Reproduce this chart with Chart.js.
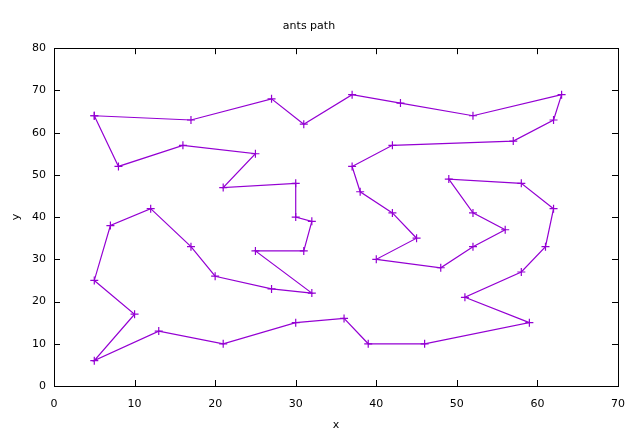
<!DOCTYPE html>
<html>
<head>
<meta charset="utf-8">
<title>ants path</title>
<script src="https://cdn.jsdelivr.net/npm/chart.js@4/dist/chart.umd.min.js"></script>
<style>
  html, body { margin: 0; padding: 0; background: #fff; }
  #wrap { width: 640px; height: 438px; }
</style>
</head>
<body>
<div id="wrap"><canvas id="antChart" width="640" height="438"></canvas></div>
<script>
// path visited by the ants, in order (closed tour)
const pathX = [5, 17, 27, 31, 37, 43, 52, 63, 62, 57, 42, 37, 38, 42, 45, 40, 48, 52, 56, 52,
               49, 58, 62, 61, 58, 51, 59, 46, 39, 36, 30, 21, 13, 5, 10, 5, 7, 12, 17, 20,
               27, 32, 25, 31, 32, 30, 30, 21, 25, 16, 8, 5];
const pathY = [64, 63, 68, 62, 69, 67, 64, 69, 63, 58, 57, 52, 46, 41, 35, 30, 28, 33, 37, 41,
               49, 48, 42, 33, 27, 21, 15, 10, 10, 16, 15, 10, 13, 6, 17, 25, 38, 42, 33, 26,
               23, 22, 32, 32, 39, 40, 48, 47, 55, 57, 52, 64];

const xTicks = [0, 10, 20, 30, 40, 50, 60, 70];
const yTicks = [0, 10, 20, 30, 40, 50, 60, 70, 80];

const lineColor = '#9400d3';
const fontFamily = '"DejaVu Sans", sans-serif';

// frame + inward (mirrored) ticks, gnuplot style
const framePlugin = {
    id: 'frame',
    afterDraw(chart) {
        const ctx = chart.ctx;
        const a = chart.chartArea;
        const xs = chart.scales.x;
        const ys = chart.scales.y;
        const len = 6;
        ctx.save();
        ctx.strokeStyle = '#000';
        ctx.lineWidth = 1;
        ctx.beginPath();
        xTicks.forEach(v => {
            const px = Math.round(xs.getPixelForValue(v)) + 0.5;
            ctx.moveTo(px, a.bottom); ctx.lineTo(px, a.bottom - len);
            ctx.moveTo(px, a.top); ctx.lineTo(px, a.top + len);
        });
        yTicks.forEach(v => {
            const py = Math.round(ys.getPixelForValue(v)) + 0.5;
            ctx.moveTo(a.left, py); ctx.lineTo(a.left + len, py);
            ctx.moveTo(a.right, py); ctx.lineTo(a.right - len, py);
        });
        ctx.stroke();
        ctx.strokeRect(Math.round(a.left) + 0.5, Math.round(a.top) + 0.5,
                       Math.round(a.right - a.left), Math.round(a.bottom - a.top));
        ctx.restore();
    }
};

const points = pathX.map((x, i) => ({ x: x, y: pathY[i] }));

new Chart(document.getElementById('antChart'), {
    type: 'scatter',
    data: {
        datasets: [{
            label: 'path',
            data: points,
            showLine: true,
            borderColor: lineColor,
            backgroundColor: lineColor,
            borderWidth: 1.2,
            pointStyle: 'cross',
            pointRadius: 4,
            pointBorderWidth: 1.2,
            pointBorderColor: lineColor,
            tension: 0
        }]
    },
    options: {
        responsive: false,
        animation: false,
        layout: { padding: { left: 0, right: 22, top: 0, bottom: 2 } },
        plugins: {
            legend: { display: false },
            tooltip: { enabled: false },
            title: {
                display: true,
                text: 'ants path',
                color: '#000',
                font: { family: fontFamily, size: 11, weight: 'normal' },
                padding: { top: 20, bottom: 15 }
            }
        },
        scales: {
            x: {
                type: 'linear',
                min: 0, max: 70,
                afterBuildTicks: s => { s.ticks = xTicks.map(v => ({ value: v })); },
                afterFit: s => { s.height = 50; },
                grid: { display: false },
                border: { display: false },
                ticks: { color: '#000', padding: 4, font: { family: fontFamily, size: 11 } },
                title: { display: true, text: 'x', color: '#000', padding: { top: 10 },
                         font: { family: fontFamily, size: 11 } }
            },
            y: {
                type: 'linear',
                min: 0, max: 80,
                afterBuildTicks: s => { s.ticks = yTicks.map(v => ({ value: v })); },
                afterFit: s => { s.width = 54; },
                grid: { display: false },
                border: { display: false },
                ticks: { color: '#000', padding: 0, font: { family: fontFamily, size: 11 } },
                title: { display: true, text: 'y', color: '#000', padding: { top: 10, bottom: 14 },
                         font: { family: fontFamily, size: 11 } }
            }
        }
    },
    plugins: [framePlugin]
});
</script>
</body>
</html>
